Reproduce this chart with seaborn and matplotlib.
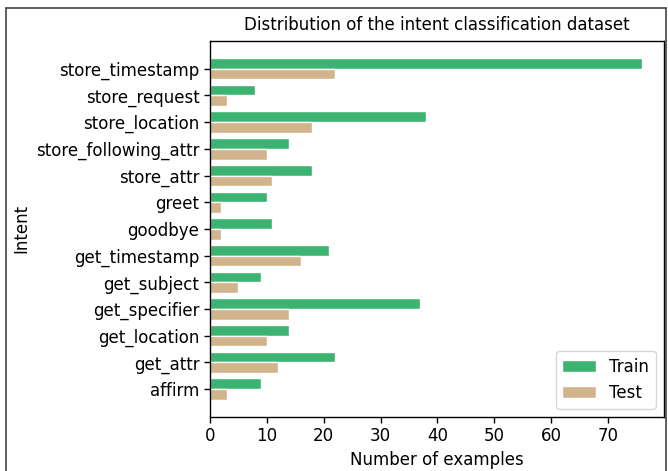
import pandas as pd
import seaborn as sns
import matplotlib.pyplot as plt
from matplotlib.lines import Line2D

# values (top to bottom)
intents = ['store_timestamp', 'store_request', 'store_location', 'store_following_attr',
           'store_attr', 'greet', 'goodbye', 'get_timestamp', 'get_subject',
           'get_specifier', 'get_location', 'get_attr', 'affirm']
train_counts = [76, 8, 38, 14, 18, 10, 11, 21, 9, 37, 14, 22, 9]
test_counts = [22, 3, 18, 10, 11, 2, 2, 16, 5, 14, 10, 12, 3]

df = pd.DataFrame({'Intent': intents * 2,
                   'count': train_counts + test_counts,
                   'split': ['Train'] * len(intents) + ['Test'] * len(intents)})

sns.set_style('white')
plt.rcParams['font.family'] = ['DejaVu Sans']
plt.rcParams.update({'text.color': 'black', 'axes.labelcolor': 'black',
                     'xtick.color': 'black', 'ytick.color': 'black'})

fig, ax = plt.subplots(figsize=(6.68, 4.71), dpi=100)
fig.subplots_adjust(left=0.314, right=0.994, top=0.913, bottom=0.115)

sns.barplot(data=df, y='Intent', x='count', hue='split', order=intents,
            hue_order=['Train', 'Test'], palette={'Train': '#3cb371', 'Test': '#d2b48c'},
            orient='h', width=0.8, saturation=1, ax=ax)

# matplotlib-like 5% margins around the bars
n = len(intents)
ax.set_ylim(n - 0.6 + 0.64, -0.4 - 0.64)
ax.set_xlim(0, max(train_counts) * 1.05)
ax.set_xticks(range(0, 80, 10))

ax.set_title('Distribution of the intent classification dataset', fontsize=12, color='black', pad=8)
ax.set_xlabel('Number of examples', fontsize=12)
ax.set_ylabel('Intent', fontsize=12)
ax.tick_params(axis='both', labelsize=12, length=4, width=1, direction='out', left=True, bottom=True)
for s in ax.spines.values():
    s.set_color('black')
    s.set_linewidth(1)

ax.legend(loc='lower right', fontsize=12, title=None, frameon=True, fancybox=True, framealpha=0.8)

# window border of the screenshot
border = dict(color='#444444', linewidth=1.2, transform=fig.transFigure)
fig.add_artist(Line2D([6 / 668, 6 / 668], [0, 1 - 7.5 / 471], **border))
fig.add_artist(Line2D([6 / 668, 666 / 668], [1 - 7.5 / 471, 1 - 7.5 / 471], **border))
fig.add_artist(Line2D([666 / 668, 666 / 668], [0, 1 - 7.5 / 471], **border))

plt.savefig('out.png', dpi=100)
